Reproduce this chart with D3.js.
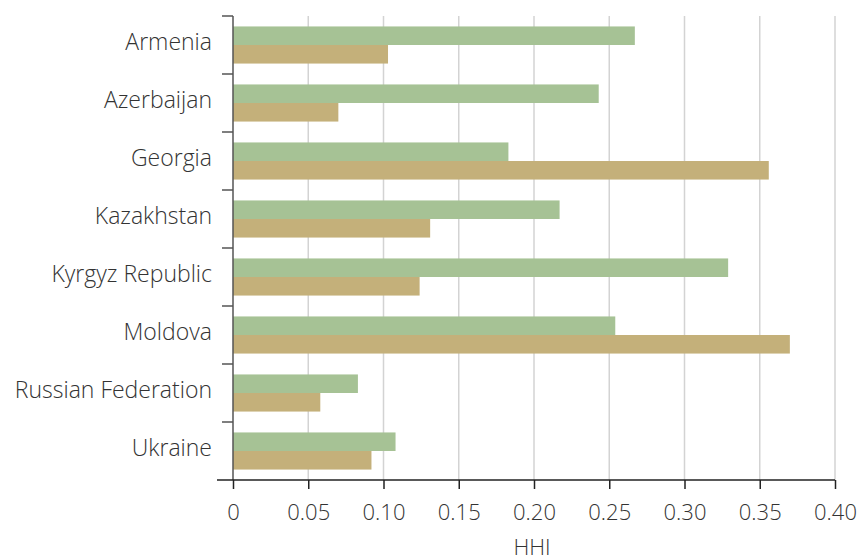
<!DOCTYPE html>
<html>
<head>
<meta charset="utf-8">
<script src="https://cdn.jsdelivr.net/npm/d3@7"></script>
<style>
  body { margin: 0; background: #fff; }
  text { font-family: "Open Sans", sans-serif; font-weight: 300; fill: #333; }
</style>
</head>
<body>
<div id="chart"></div>
<script>
var countries = ["Armenia", "Azerbaijan", "Georgia", "Kazakhstan", "Kyrgyz Republic", "Moldova", "Russian Federation", "Ukraine"];
var seriesA = [0.267, 0.243, 0.183, 0.217, 0.329, 0.254, 0.083, 0.108];
var seriesB = [0.103, 0.070, 0.356, 0.131, 0.124, 0.370, 0.058, 0.092];
var xTicks = [0, 0.05, 0.10, 0.15, 0.20, 0.25, 0.30, 0.35, 0.40];
var xTickLabels = ["0", "0.05", "0.10", "0.15", "0.20", "0.25", "0.30", "0.35", "0.40"];

var width = 864, height = 560;
var margin = {top: 16, right: 29, bottom: 80, left: 233};

var svg = d3.select('#chart').append('svg')
    .attr('width', width)
    .attr('height', height);

var x = d3.scaleLinear()
    .domain([0, 0.4])
    .range([margin.left, width - margin.right]);

var y = d3.scaleBand()
    .domain(countries)
    .range([margin.top, height - margin.bottom])
    .paddingInner(0.36)
    .paddingOuter(0.18);

var sub = d3.scaleBand()
    .domain(["a", "b"])
    .range([0, y.bandwidth()]);

// grid
svg.append('g').selectAll('line')
    .data(xTicks.slice(1))
    .enter().append('line')
    .attr('x1', function (d) { return x(d); })
    .attr('x2', function (d) { return x(d); })
    .attr('y1', margin.top)
    .attr('y2', height - margin.bottom)
    .attr('stroke', '#d3d3d3')
    .attr('stroke-width', 1.5);

var rows = svg.selectAll('.row')
    .data(countries)
    .enter().append('g')
    .attr('class', 'row')
    .attr('transform', function (d) { return 'translate(0,' + y(d) + ')'; });

rows.append('rect')
    .attr('x', x(0))
    .attr('y', sub('a'))
    .attr('height', sub.bandwidth())
    .attr('width', function (d, i) { return x(seriesA[i]) - x(0); })
    .attr('fill', '#a6c295');

rows.append('rect')
    .attr('x', x(0))
    .attr('y', sub('b'))
    .attr('height', sub.bandwidth())
    .attr('width', function (d, i) { return x(seriesB[i]) - x(0); })
    .attr('fill', '#c4b07a');

// y axis
var step = y.step();
var bounds = d3.range(countries.length + 1).map(function (i) { return margin.top + i * step; });
svg.append('line')
    .attr('x1', x(0)).attr('x2', x(0))
    .attr('y1', margin.top).attr('y2', height - margin.bottom)
    .attr('stroke', '#555').attr('stroke-width', 1.5);
svg.append('g').selectAll('line')
    .data(bounds.slice(0, -1))
    .enter().append('line')
    .attr('x1', x(0) - 11).attr('x2', x(0))
    .attr('y1', function (d) { return d; }).attr('y2', function (d) { return d; })
    .attr('stroke', '#555').attr('stroke-width', 1.5);

svg.append('g').selectAll('text')
    .data(countries)
    .enter().append('text')
    .attr('x', 212)
    .attr('y', function (d) { return y(d) + y.bandwidth() / 2 - 3; })
    .attr('dy', '0.35em')
    .attr('text-anchor', 'end')
    .attr('font-size', 23)
    .text(function (d) { return d; });

// x axis
var xAxis = d3.axisBottom(x)
    .tickValues(xTicks)
    .tickFormat(function (d, i) { return xTickLabels[i]; })
    .tickSize(9)
    .tickSizeOuter(0)
    .tickPadding(15);

var gx = svg.append('g')
    .attr('transform', 'translate(0,' + (height - margin.bottom) + ')')
    .call(xAxis);
gx.select('.domain').remove();
gx.insert('line', ':first-child')
    .attr('x1', 217).attr('x2', x(0.4))
    .attr('stroke', '#222').attr('stroke-width', 1.5);
gx.selectAll('.tick line').attr('stroke', '#222').attr('stroke-width', 1.5);
gx.selectAll('.tick text')
    .attr('font-size', 22)
    .attr('font-family', '"Open Sans", sans-serif')
    .attr('fill', '#333');

svg.append('text')
    .attr('x', x(0.2) - 2)
    .attr('y', 555)
    .attr('text-anchor', 'middle')
    .attr('font-size', 22)
    .text('HHI');
</script>
</body>
</html>
